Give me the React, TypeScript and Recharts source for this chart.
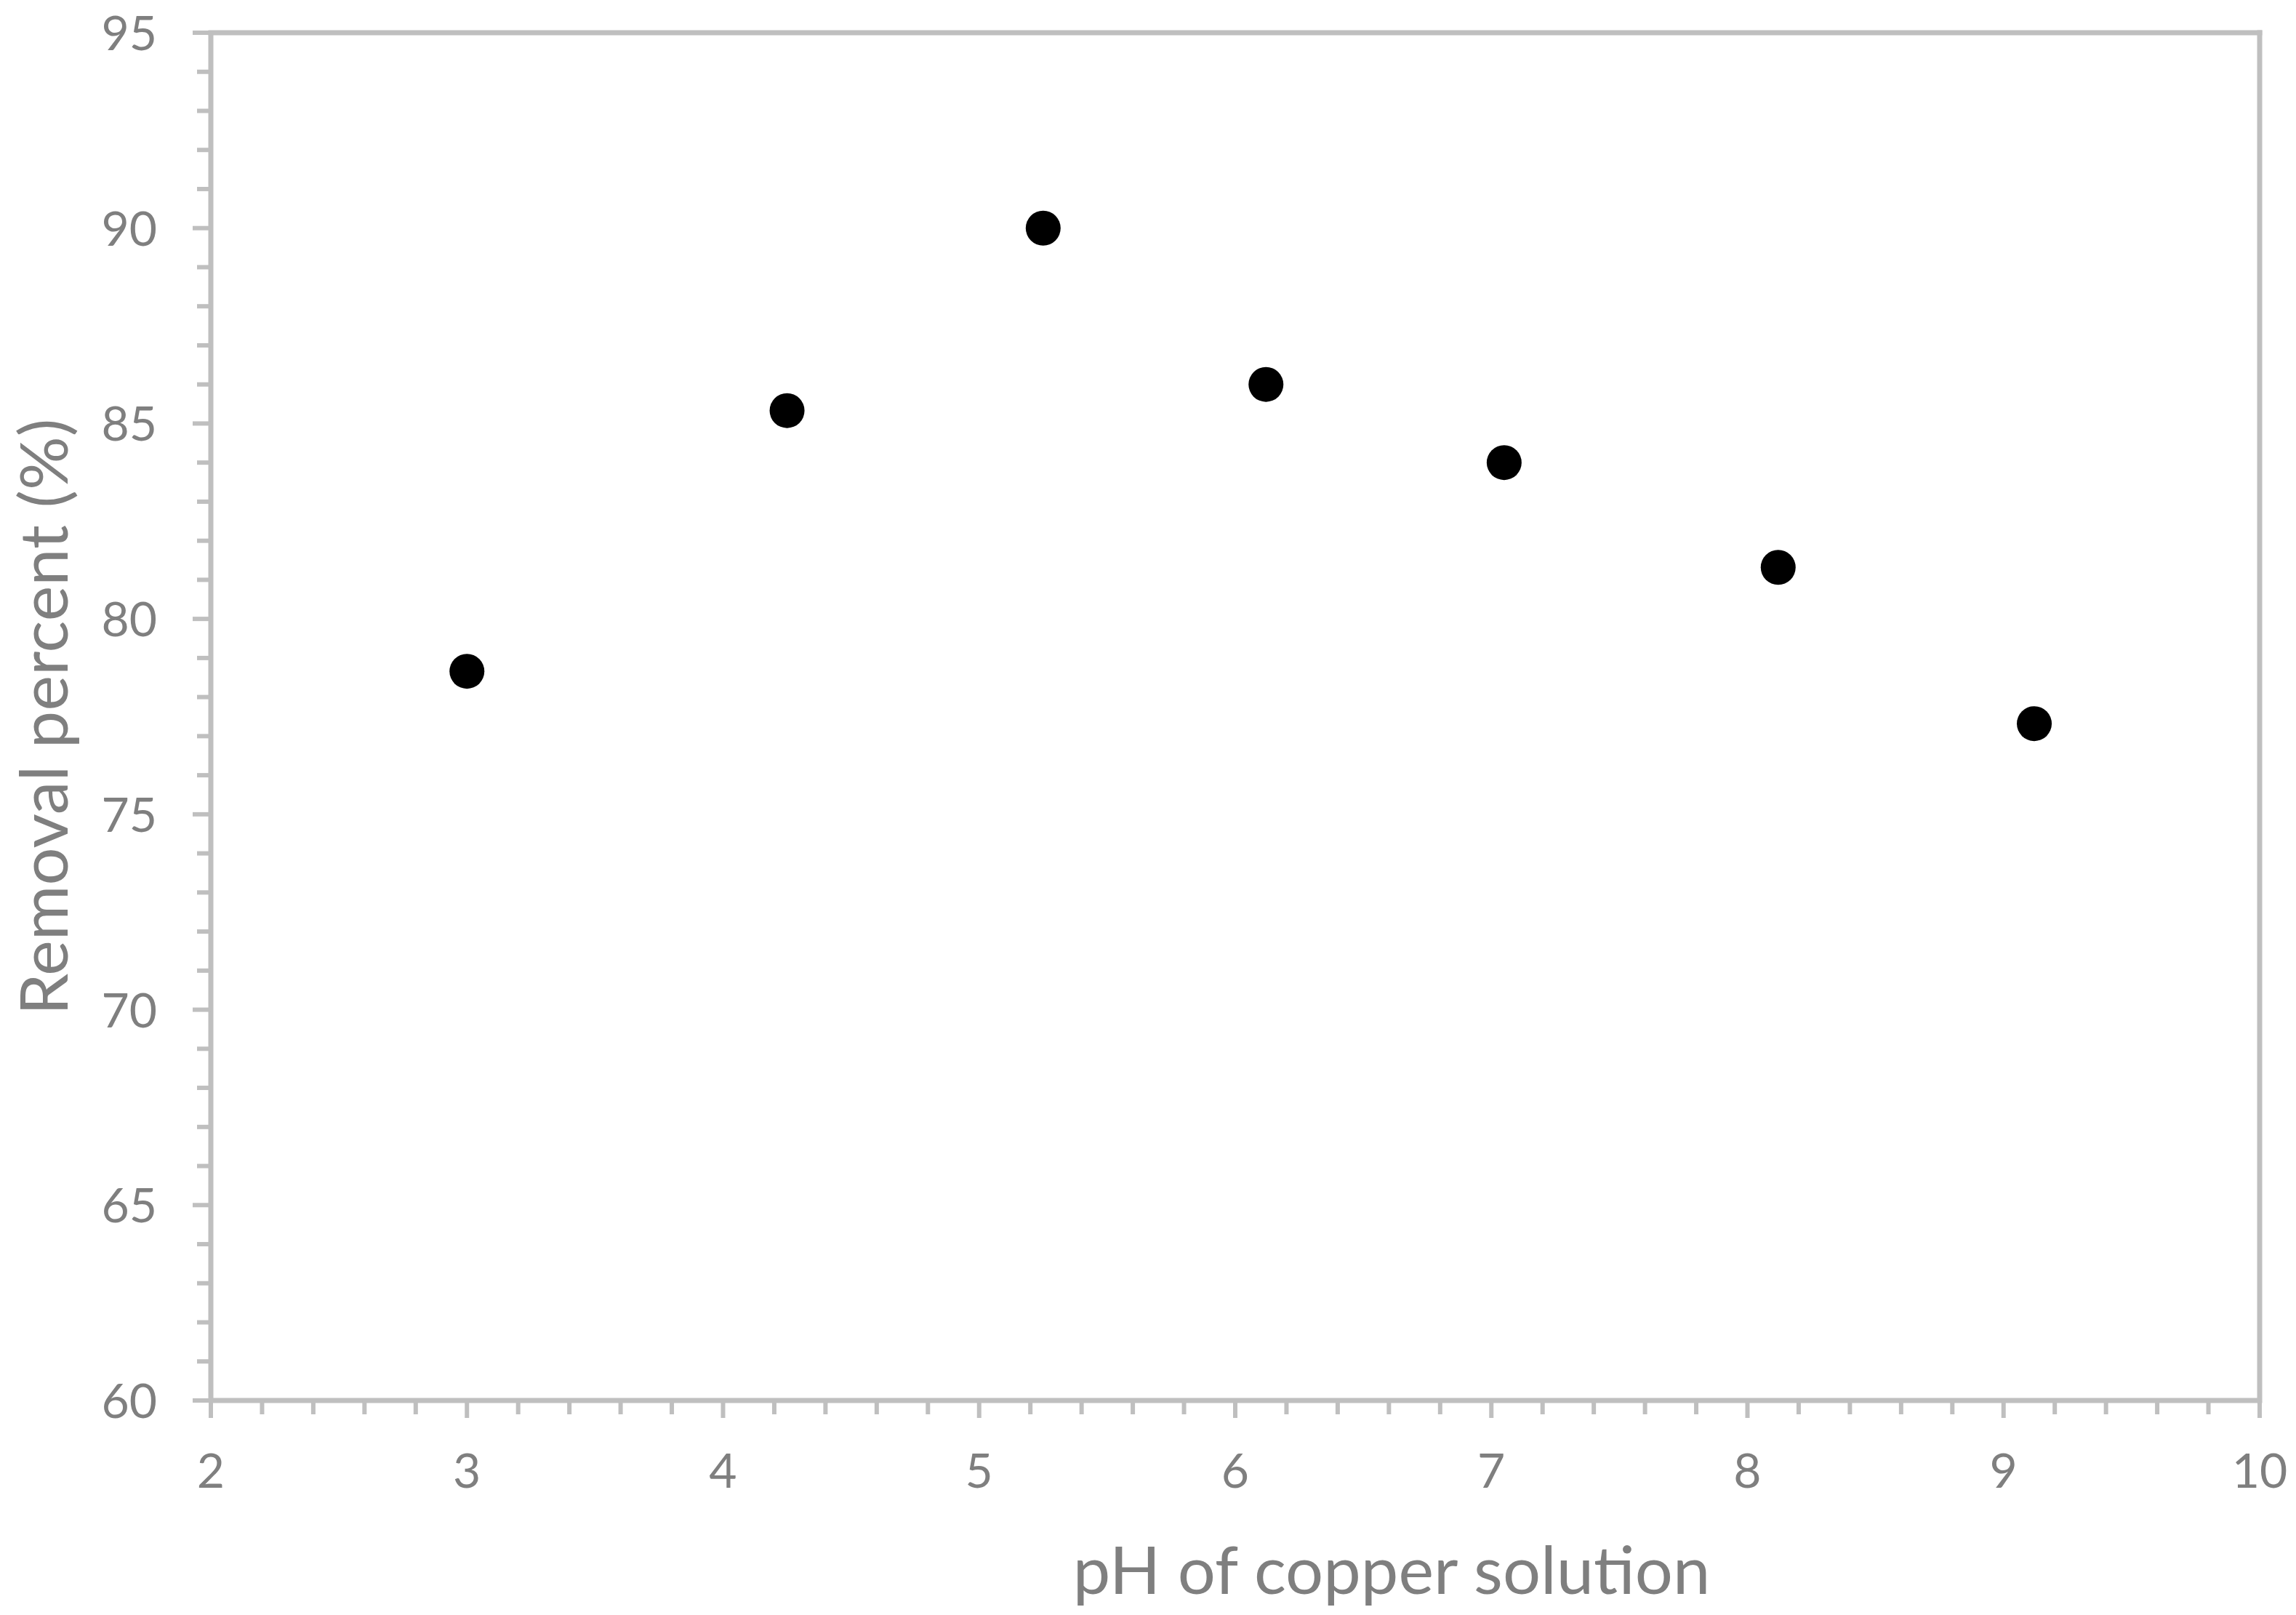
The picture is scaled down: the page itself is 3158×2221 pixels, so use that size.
// pH effect on copper removal – scatter, Excel look

import { ScatterChart, Scatter, XAxis, YAxis, ReferenceLine, Label } from 'recharts';

const PH = [3.0, 4.25, 5.25, 6.12, 7.05, 8.12, 9.12];
const REMOVAL = [78.66, 85.33, 90.0, 86.0, 84.0, 81.32, 77.32];

const X_MAJOR = [2, 3, 4, 5, 6, 7, 8, 9, 10];
const Y_MAJOR = [60, 65, 70, 75, 80, 85, 90, 95];
const X_MINOR_STEP = 0.2;
const Y_MINOR_STEP = 1;

const X_TITLE = 'pH of copper solution';
const Y_TITLE = 'Removal percent (%)';

const AXIS = '#BFBFBF';
const TEXT = '#7F7F7F';
const FONT = 'Lato, "Open Sans", sans-serif';

const W = 3150;
const H = 2205;

const minorTicks = (major: number[], step: number) => {
  const out: number[] = [];
  const lo = major[0];
  const hi = major[major.length - 1];
  const n = Math.round((hi - lo) / step);
  for (let i = 0; i <= n; i++) out.push(Math.round((lo + i * step) * 100) / 100);
  return out;
};

const X_TICKS = minorTicks(X_MAJOR, X_MINOR_STEP);
const Y_TICKS = minorTicks(Y_MAJOR, Y_MINOR_STEP);

const data = PH.map((ph, i) => ({ ph, removal: REMOVAL[i] }));

const XTick = ({ x, y, payload }: any) => {
  const v = payload.value;
  const major = X_MAJOR.includes(v);
  return (
    <g>
      <line x1={x} x2={x} y1={y} y2={y + (major ? 24 : 19)} stroke={AXIS} strokeWidth={6} />
      {major && (
        <text x={x} y={y + 120} textAnchor="middle" fill={TEXT} fontSize={66} fontFamily={FONT}>
          {v}
        </text>
      )}
    </g>
  );
};

const YTick = ({ x, y, payload }: any) => {
  const v = payload.value;
  const major = Y_MAJOR.includes(v);
  return (
    <g>
      <line x1={x - (major ? 25 : 19)} x2={x} y1={y} y2={y} stroke={AXIS} strokeWidth={6} />
      {major && (
        <text x={x - 74} y={y + 24} textAnchor="end" fill={TEXT} fontSize={66} fontFamily={FONT}>
          {v}
        </text>
      )}
    </g>
  );
};

const Dot = (props: any) => <circle cx={props.cx} cy={props.cy} r={24} fill="#000" />;

const XTitle = () => (
  <text x={1906} y={2184} textAnchor="middle" fill={TEXT} fontSize={92} fontFamily={FONT}>
    {X_TITLE}
  </text>
);

const YTitle = () => (
  <text
    x={85}
    y={978}
    textAnchor="middle"
    fill={TEXT}
    fontSize={92}
    fontFamily={FONT}
    transform="rotate(-90, 85, 978)"
  >
    {Y_TITLE}
  </text>
);

export default function App() {
  return (
    <div style={{ width: W, height: H, background: '#fff' }}>
      <ScatterChart width={W} height={H} margin={{ top: 37, right: 50, bottom: 0, left: 0 }}>
        <XAxis
          type="number"
          dataKey="ph"
          domain={[2, 10]}
          ticks={X_TICKS}
          interval={0}
          height={287}
          axisLine={{ stroke: AXIS, strokeWidth: 7 }}
          tickLine={false}
          tickSize={0}
          tickMargin={0}
          tick={(p: any) => <XTick {...p} />}
        >
          <Label content={() => <XTitle />} />
        </XAxis>
        <YAxis
          type="number"
          dataKey="removal"
          domain={[60, 95]}
          ticks={Y_TICKS}
          interval={0}
          width={282}
          axisLine={{ stroke: AXIS, strokeWidth: 7 }}
          tickLine={false}
          tickSize={0}
          tickMargin={0}
          tick={(p: any) => <YTick {...p} />}
        >
          <Label content={() => <YTitle />} />
        </YAxis>
        <ReferenceLine y={95} stroke={AXIS} strokeWidth={7} strokeLinecap="square" />
        <ReferenceLine x={10} stroke={AXIS} strokeWidth={7} strokeLinecap="square" />
        <Scatter data={data} shape={<Dot />} isAnimationActive={false} />
      </ScatterChart>
    </div>
  );
}
